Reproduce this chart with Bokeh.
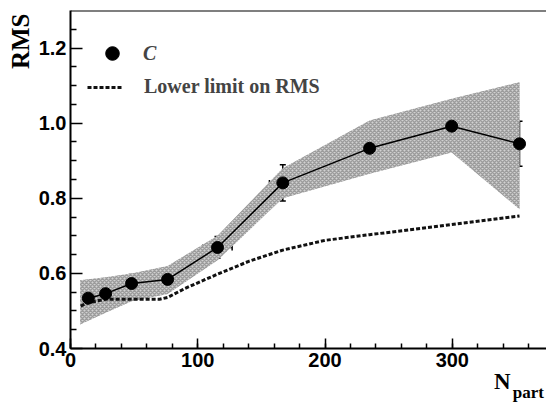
from bokeh.plotting import figure
from bokeh.models import (ColumnDataSource, Whisker, TeeHead, Legend, LegendItem,
                          Span, SingleIntervalTicker, FixedTicker, LinearAxis,
                          PrintfTickFormatter, Title)
from bokeh.embed import file_html
from bokeh.resources import INLINE

# ---- data ----
npart = [14, 27.6, 48, 76.3, 115.5, 166.8, 235, 299.5, 352.8]
rms = [0.534, 0.546, 0.573, 0.584, 0.669, 0.841, 0.933, 0.992, 0.945]
rms_err = [0.014, 0.018, 0.024, 0.026, 0.029, 0.048, 0.058, 0.066, 0.060]
npart_err = [2, 3, 5, 8, 11.5, 10.5, 9, 6, 0]

band_x = [7.5, 27.6, 48, 76.3, 115.5, 166.8, 235, 299.5, 352.8]
band_hi = [0.582, 0.59, 0.60, 0.62, 0.70, 0.88, 1.007, 1.065, 1.109]
band_lo = [0.464, 0.495, 0.526, 0.545, 0.635, 0.80, 0.865, 0.922, 0.771]

limit_x = [8, 14, 27.6, 48, 70, 76.3, 90, 115.5, 140, 166.8, 200, 235, 299.5, 352.8]
limit_y = [0.513, 0.522, 0.531, 0.531, 0.531, 0.536, 0.56, 0.598, 0.632, 0.662, 0.688, 0.703, 0.730, 0.753]

y_ticks = [0.4, 0.6, 0.8, 1.0, 1.2]
y_minor = [0.45, 0.5, 0.55, 0.65, 0.7, 0.75, 0.85, 0.9, 0.95, 1.05, 1.1, 1.15, 1.25]

x_title = "N"
x_title_sub = "part"
y_title = "RMS"

SANS = "Liberation Sans"
SERIF = "Liberation Serif"

p = figure(width=546, height=404, x_range=(0, 374), y_range=(0.4, 1.3),
           output_backend="svg", toolbar_location=None,
           min_border_left=70, min_border_right=0, min_border_top=10, min_border_bottom=55)
p.xgrid.visible = False
p.ygrid.visible = False
p.outline_line_color = None
p.background_fill_color = "white"
p.border_fill_color = "white"

# axes styling
for ax in (p.xaxis[0], p.yaxis[0]):
    ax.axis_line_width = 2
    ax.major_tick_line_width = 1.5
    ax.minor_tick_line_width = 1.5
    ax.major_tick_out = 0
    ax.minor_tick_out = 0
    ax.major_label_text_font = SANS
    ax.major_label_text_font_style = "bold"
    ax.major_label_text_font_size = "20px"
    ax.major_label_text_color = "black"

p.xaxis.ticker = SingleIntervalTicker(interval=100, num_minor_ticks=5)
p.xaxis.major_tick_in = 10
p.xaxis.minor_tick_in = 5
p.xaxis.major_label_standoff = 4

p.yaxis.ticker = FixedTicker(ticks=y_ticks, minor_ticks=y_minor)
p.yaxis.formatter = PrintfTickFormatter(format="%.1f")
p.yaxis.major_tick_in = 12
p.yaxis.minor_tick_in = 6
p.yaxis.major_label_standoff = 4


def title_axis(pos, text, size, standoff):
    return LinearAxis(ticker=FixedTicker(ticks=[pos], minor_ticks=[]),
                      major_label_overrides={pos: text},
                      axis_line_color=None, major_tick_line_color=None,
                      minor_tick_line_color=None, major_tick_in=0, major_tick_out=0,
                      minor_tick_in=0, minor_tick_out=0,
                      major_label_standoff=standoff,
                      major_label_text_font=SERIF, major_label_text_font_style="bold",
                      major_label_text_font_size=size, major_label_text_color="black")


# x title "N" with subscript "part", as extra axes below the main one
p.add_layout(title_axis(339.2, x_title, "23px", -1), "below")
p.add_layout(title_axis(359.7, x_title_sub, "17px", -14), "below")
# y title at the top of the left side
p.add_layout(Title(text=y_title, align="right", vertical_align="top", offset=3, standoff=0,
                   text_font=SERIF, text_font_style="bold", text_font_size="25px",
                   text_color="black"), "left")

# top frame line
p.add_layout(Span(location=1.3, dimension="width", line_color="black", line_width=2))

# systematic band
p.varea(x=band_x, y1=band_lo, y2=band_hi, fill_color="#d2d2d2",
        hatch_pattern="diagonal_cross", hatch_color="#9c9c9c", hatch_scale=4, hatch_weight=1.5)

# lower limit
lim = p.line(limit_x, limit_y, line_color="#111111", line_width=3, line_dash="4 2")

# data
src = ColumnDataSource(dict(
    x=npart, y=rms,
    yu=[v + e for v, e in zip(rms, rms_err)], yd=[v - e for v, e in zip(rms, rms_err)],
    xl=[v - e for v, e in zip(npart, npart_err)], xr=[v + e for v, e in zip(npart, npart_err)],
))
p.line("x", "y", source=src, line_color="black", line_width=1.5)
p.add_layout(Whisker(source=src, base="x", upper="yu", lower="yd", dimension="height",
                     line_width=1.5, line_color="black",
                     upper_head=TeeHead(size=6, line_width=1.5),
                     lower_head=TeeHead(size=6, line_width=1.5)))
p.add_layout(Whisker(source=src, base="y", upper="xr", lower="xl", dimension="width",
                     line_width=1.5, line_color="black",
                     upper_head=TeeHead(size=6, line_width=1.5),
                     lower_head=TeeHead(size=6, line_width=1.5)))
pts = p.scatter("x", "y", source=src, size=12, marker="circle", fill_color="black", line_color="black")

# legends
leg1 = Legend(items=[LegendItem(label="C", renderers=[pts])], location=(25, 278),
              padding=0, margin=0, border_line_color=None, background_fill_alpha=0,
              glyph_width=34, glyph_height=34, label_standoff=14,
              label_text_font=SERIF, label_text_font_style="bold italic",
              label_text_font_size="20px")
leg2 = Legend(items=[LegendItem(label="Lower limit on RMS", renderers=[lim])], location=(17, 250),
              padding=0, margin=0, border_line_color=None, background_fill_alpha=0,
              glyph_width=36, glyph_height=20, label_standoff=21,
              label_text_font=SERIF, label_text_font_style="bold",
              label_text_font_size="20px")
p.add_layout(leg1)
p.add_layout(leg2)

open("out.html", "w").write(file_html(p, INLINE))
